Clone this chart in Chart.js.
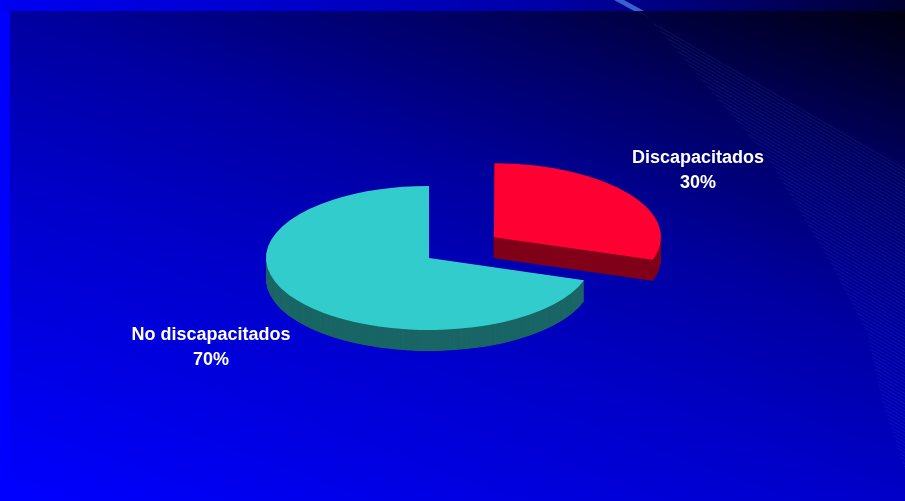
<!DOCTYPE html>
<html>
<head>
<meta charset="utf-8">
<script src="https://cdn.jsdelivr.net/npm/chart.js@4.4.0/dist/chart.umd.min.js"></script>
<style>
  html, body { margin: 0; padding: 0; background: #0000ff; }
  #wrap { width: 905px; height: 501px; }
</style>
</head>
<body>
<div id="wrap"><canvas id="pie" width="905" height="501"></canvas></div>
<script>
var labels = ["Discapacitados", "No discapacitados"];
var values = [30, 70];

var topColors = ["#ff0033", "#33cccc"];
var sideColors = ["#80001a", "#1a6666"];
var explode = [321, 0];           // arc offset, chart.js moves it offset/4 px
var labelSpots = [[698, 163], [211, 340]];

var TILT = 0.442;  // vertical squash of the disc
var DEPTH = 21;    // disc thickness, px

// slide background: gradient panel plus the thin swoosh lines
var backdrop = {
  id: 'backdrop',
  beforeDraw: function(chart) {
    var ctx = chart.ctx, W = chart.width, H = chart.height;
    ctx.save();
    ctx.fillStyle = '#0000ff';
    ctx.fillRect(0, 0, W, H);

    var band = ctx.createLinearGradient(0, 0, W, 0);
    band.addColorStop(0, '#0000f2');
    band.addColorStop(0.6, '#0000a8');
    band.addColorStop(1, '#000030');
    ctx.fillStyle = band;
    ctx.fillRect(0, 0, W, 11);

    var x0 = 10, y0 = 11, pw = W - x0, ph = H - y0;
    var a = 0.4, b = 0.6;
    var gx = a / pw, gy = -b / ph, g2 = gx * gx + gy * gy;
    var grad = ctx.createLinearGradient(x0, H, x0 + gx / g2, H + gy / g2);
    grad.addColorStop(0, '#0000ff');
    grad.addColorStop(0.4, '#0000c8');
    grad.addColorStop(0.6, '#0000a0');
    grad.addColorStop(0.8, '#000060');
    grad.addColorStop(1, '#000010');
    ctx.fillStyle = grad;
    ctx.fillRect(x0, y0, pw, ph);

    // streak in the top band
    ctx.fillStyle = '#3860d0';
    ctx.beginPath();
    ctx.moveTo(614, 0); ctx.lineTo(624, 0); ctx.lineTo(644, 11); ctx.lineTo(634, 11);
    ctx.closePath();
    ctx.fill();

    // fan of fine lines
    ctx.beginPath();
    ctx.moveTo(633, 11);
    ctx.lineTo(W, 166);
    ctx.lineTo(W, 470);
    ctx.lineTo(882, 400);
    ctx.lineTo(867, 333);
    ctx.lineTo(833, 267);
    ctx.lineTo(767, 157);
    ctx.lineTo(643, 11);
    ctx.closePath();
    ctx.clip();
    ctx.strokeStyle = 'rgba(70,100,255,0.17)';
    ctx.lineWidth = 1;
    for (var y = -200; y < H; y += 3.5) {
      ctx.beginPath();
      ctx.moveTo(600, y);
      ctx.lineTo(W, y + (W - 600) * 0.58);
      ctx.stroke();
    }
    ctx.restore();
  }
};

function squash(ctx, cy, drop) {
  ctx.translate(0, cy + drop);
  ctx.scale(1, TILT);
  ctx.translate(0, -cy);
}

// draws the dark sides below, then flattens the real arcs into ellipses
var disc = {
  id: 'disc',
  beforeDatasetsDraw: function(chart) {
    var ctx = chart.ctx;
    var arcs = chart.getDatasetMeta(0).data;
    var cy = arcs[0].y;
    for (var d = DEPTH; d > 0; d -= 0.5) {
      ctx.save();
      squash(ctx, cy, d);
      arcs.forEach(function(arc, i) {
        var side = Object.create(arc);
        side.options = Object.assign({}, arc.options, { backgroundColor: sideColors[i], borderWidth: 0 });
        side.draw(ctx);
      });
      ctx.restore();
    }
    ctx.save();
    squash(ctx, cy, 0);
  },
  afterDatasetsDraw: function(chart) {
    chart.ctx.restore();
  }
};

var tags = {
  id: 'tags',
  afterDraw: function(chart) {
    var ctx = chart.ctx;
    var total = values.reduce(function(s, v) { return s + v; }, 0);
    ctx.save();
    ctx.fillStyle = '#ffffff';
    ctx.font = 'bold 18px "Liberation Sans", Arial, sans-serif';
    ctx.textAlign = 'center';
    ctx.textBaseline = 'alphabetic';
    labels.forEach(function(name, i) {
      var p = labelSpots[i];
      ctx.fillText(name, p[0], p[1]);
      ctx.fillText(Math.round(values[i] / total * 100) + '%', p[0], p[1] + 25);
    });
    ctx.restore();
  }
};

new Chart(document.getElementById('pie'), {
  type: 'pie',
  data: {
    labels: labels,
    datasets: [{
      data: values,
      backgroundColor: topColors,
      borderWidth: 0,
      offset: explode,
      radius: 163
    }]
  },
  options: {
    responsive: false,
    animation: false,
    events: [],
    layout: { padding: { left: 0, right: 47, top: 15, bottom: 0 } },
    plugins: {
      legend: { display: false },
      tooltip: { enabled: false }
    }
  },
  plugins: [backdrop, disc, tags]
});
</script>
</body>
</html>
